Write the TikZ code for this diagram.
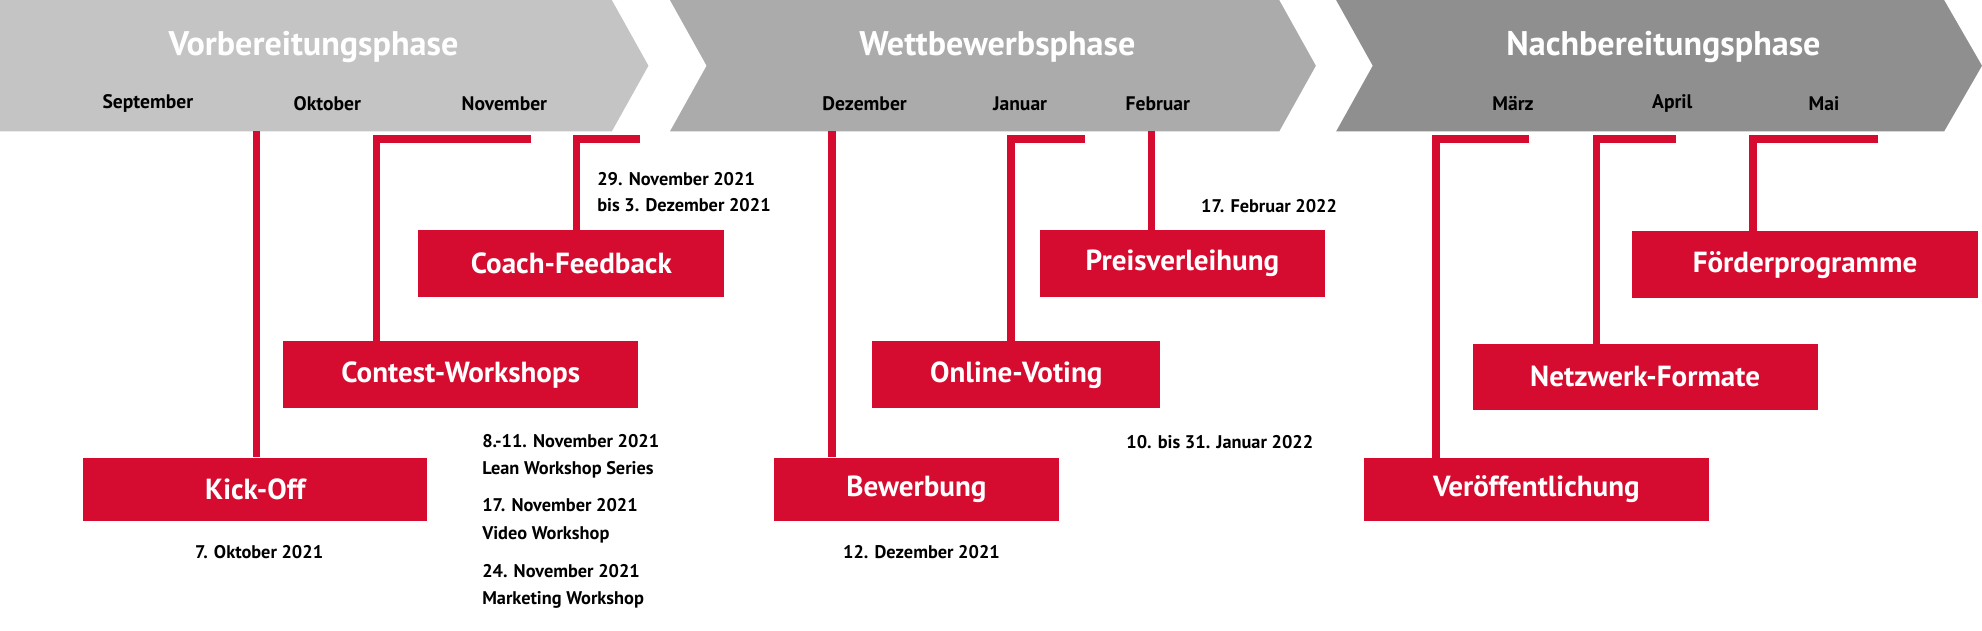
\documentclass[tikz,border=0pt]{standalone}
\usepackage{fontspec}
\setmainfont{PT Sans}
\definecolor{rd}{HTML}{D50C2F}
\definecolor{g1}{HTML}{C4C4C4}
\definecolor{g2}{HTML}{ABABAB}
\definecolor{g3}{HTML}{8F8F8F}
\begin{document}
\begin{tikzpicture}[x=1pt,y=-1pt,
  box/.style={fill=rd,text=white,font=\fontsize{23}{26}\selectfont\bfseries,inner sep=0pt},
  title/.style={text=white,font=\fontsize{27}{30}\selectfont\bfseries},
  month/.style={font=\fontsize{15.5}{18}\selectfont\bfseries},
  dt/.style={font=\fontsize{14.5}{21}\selectfont\bfseries,align=left},
  ln/.style={draw=rd,line width=6pt}]
\useasboundingbox (0,0) rectangle (1568,499);
\fill[g1] (0,0)--(484,0)--(513,52)--(484,104)--(0,104)--cycle;
\fill[g2] (530,0)--(1012,0)--(1041,52)--(1012,104)--(530,104)--(559,52)--cycle;
\fill[g3] (1057,0)--(1538,0)--(1568,52)--(1538,104)--(1057,104)--(1086,52)--cycle;
\node[title] (t1) at (248,37) {Vorbereitungsphase};
\node[title] (t2) at (789,37) {Wettbewerbsphase};
\node[title] (t3) at (1316,37) {Nachbereitungsphase};
\foreach \n/\x/\t in {m1/117/September,m2/259/Oktober,m3/399/November,m4/684/Dezember,m5/807/Januar,m6/916/Februar,m7/1197/März,m8/1323/April,m9/1443/Mai}
  \node[month] (\n) at (\x,82) {\t};
% boxes
\node[box,minimum width=272pt,minimum height=50pt] (kick) at (202,387) {Kick-Off};
\node[box,minimum width=281pt,minimum height=53pt] (cont) at (364.5,296.5) {Contest-Workshops};
\node[box,minimum width=242pt,minimum height=53pt] (coach) at (452,208.5) {Coach-Feedback};
\node[box,minimum width=226pt,minimum height=50pt] (bew) at (725,387) {Bewerbung};
\node[box,minimum width=228pt,minimum height=53pt] (vote) at (804,296.5) {Online-Voting};
\node[box,minimum width=225pt,minimum height=53pt] (preis) at (935.5,208.5) {Preisverleihung};
\node[box,minimum width=273pt,minimum height=50pt] (ver) at (1215.5,387) {Veröffentlichung};
\node[box,minimum width=273pt,minimum height=52pt] (netz) at (1301.5,298) {Netzwerk-Formate};
\node[box,minimum width=274pt,minimum height=53pt] (foerd) at (1428,209.5) {Förderprogramme};
% connectors
\coordinate (ak) at (203,104); \draw[ln] (ak) -- (kick.north -| ak);
\coordinate (ac) at (420,110); \draw[ln] (ac) -- (298,110) -- (298,270);
\coordinate (aco) at (506,110); \draw[ln] (aco) -- (456,110) -- (456,182);
\coordinate (ab) at (658,104); \draw[ln] (ab) -- (bew.north -| ab);
\coordinate (av) at (858,110); \draw[ln] (av) -- (800,110) -- (800,270);
\coordinate (ap) at (911,104); \draw[ln] (ap) -- (preis.north -| ap);
\coordinate (ave) at (1210,110); \draw[ln] (ave) -- (1136,110) -- (1136,362);
\coordinate (an) at (1326,110); \draw[ln] (an) -- (1263,110) -- (1263,272);
\coordinate (af) at (1486,110); \draw[ln] (af) -- (1387,110) -- (1387,183);
% dates
\node[dt] (d1) at (205,437) {7. Oktober 2021};
\node[dt,anchor=west] (d2) at (469,152) {29. November 2021\\bis 3. Dezember 2021};
\node[dt] (d3) at (729,437) {12. Dezember 2021};
\node[dt] (d4) at (965,350) {10. bis 31. Januar 2022};
\node[dt] (d5) at (1004,163) {17. Februar 2022};
\node[dt,anchor=west,font=\fontsize{14.5}{21.5}\selectfont\bfseries] (w1) at (378,361) {8.-11. November 2021\\Lean Workshop Series};
\node[dt,anchor=west,font=\fontsize{14.5}{21.5}\selectfont\bfseries] (w2) at (378,412) {17. November 2021\\Video Workshop};
\node[dt,anchor=west,font=\fontsize{14.5}{21.5}\selectfont\bfseries] (w3) at (378,464) {24. November 2021\\Marketing Workshop};
\end{tikzpicture}
\end{document}
